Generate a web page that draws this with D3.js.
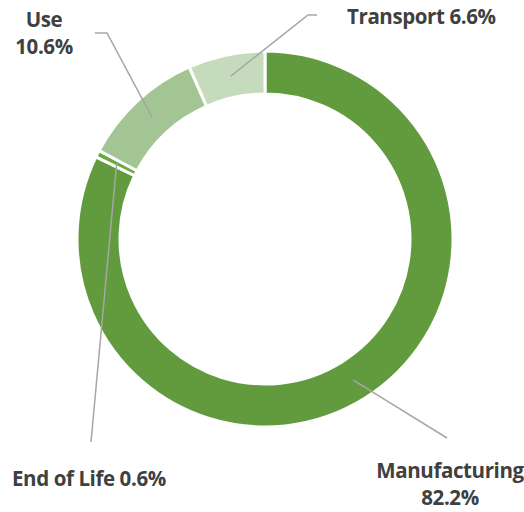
<!DOCTYPE html>
<html>
<head>
<meta charset="utf-8">
<script src="https://d3js.org/d3.v7.min.js"></script>
<style>
  body { margin: 0; background: #fff; }
  text { font-family: "Open Sans", sans-serif; font-weight: bold; fill: #404040; }
</style>
</head>
<body>
<div id="chart"></div>
<script>
const categories = ["Manufacturing", "End of Life", "Use", "Transport"]
const shares = [82.2, 0.6, 10.6, 6.6]
const colors = ["#629b3e", "#69ab3f", "#a3c594", "#c5dbbb"]

const width = 524, height = 512
const cx = 265, cy = 239
const outerR = 188, innerR = 145

// where each label sits and where its leader bends (per category)
const labelLayout = {
    "Manufacturing": {lines: ["Manufacturing", "82.2%"], x: 450, y: 478, anchor: "middle", bend: null, end: [447, 438]},
    "End of Life": {lines: ["End of Life 0.6%"], x: 12, y: 486, anchor: "start", bend: null, end: [91, 442]},
    "Use": {lines: ["Use", "10.6%"], x: 44, y: 27, anchor: "middle", bend: [107, 33], end: [95, 33]},
    "Transport": {lines: ["Transport 6.6%"], x: 347, y: 24, anchor: "start", bend: [308, 15], end: [317, 15]}
}

const data = categories.map((c, i) => ({name: c, value: shares[i], color: colors[i]}))

const pie = d3.pie().sort(null).value(d => d.value)
const arc = d3.arc().innerRadius(innerR).outerRadius(outerR)
const mid = d3.arc().innerRadius((innerR + outerR) / 2).outerRadius((innerR + outerR) / 2)

const svg = d3.select("#chart")
    .append("svg")
        .attr("width", width)
        .attr("height", height)

const g = svg.append("g").attr("transform", `translate(${cx},${cy})`)

g.selectAll("path")
    .data(pie(data))
    .enter()
    .append("path")
        .attr("d", arc)
        .attr("fill", d => d.data.color)
        .attr("stroke", "#fff")
        .attr("stroke-width", 3)

// leader lines
pie(data).forEach(d => {
    const lay = labelLayout[d.data.name]
    const [mx, my] = mid.centroid(d)
    const pts = [[cx + mx, cy + my]]
    if (lay.bend) pts.push(lay.bend)
    pts.push(lay.end)
    svg.append("path")
        .attr("d", d3.line()(pts))
        .attr("fill", "none")
        .attr("stroke", "#a6a6a6")
        .attr("stroke-width", 1.5)
})

// labels
categories.forEach(c => {
    const lay = labelLayout[c]
    const t = svg.append("text")
        .attr("x", lay.x)
        .attr("y", lay.y)
        .attr("text-anchor", lay.anchor)
        .style("font-size", "20.5px")
        .style("letter-spacing", "-0.4px")
    lay.lines.forEach((s, i) => {
        t.append("tspan")
            .attr("x", lay.x)
            .attr("dy", i === 0 ? 0 : 27)
            .text(s)
    })
})
</script>
</body>
</html>
